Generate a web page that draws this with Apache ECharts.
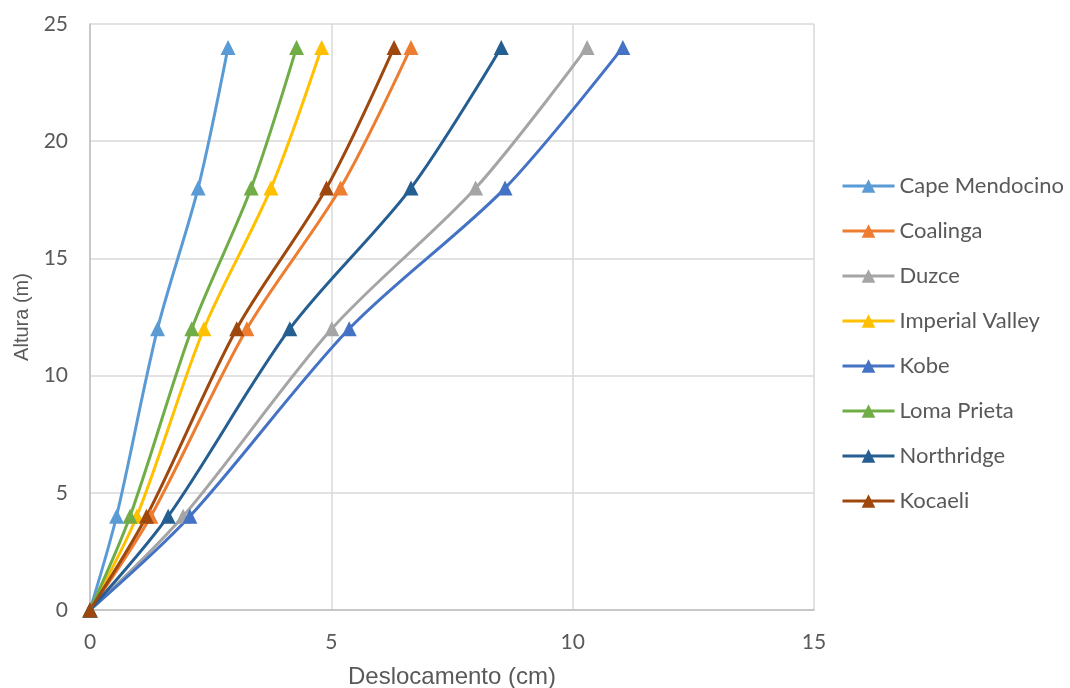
<!DOCTYPE html>
<html>
<head>
<meta charset="utf-8">
<script src="https://cdn.jsdelivr.net/npm/echarts@6/dist/echarts.min.js"></script>
<style>
html,body{margin:0;padding:0;background:#fff;}
#c{width:1070px;height:688px;}
</style>
</head>
<body>
<div id="c"></div>
<script>
const heights = [0, 4, 12, 18, 24];
const seriesNames = ['Cape Mendocino','Coalinga','Duzce','Imperial Valley','Kobe','Loma Prieta','Northridge','Kocaeli'];
const capeMendocino = [0, 0.55, 1.40, 2.24, 2.86];
const coalinga      = [0, 1.26, 3.25, 5.19, 6.65];
const duzce         = [0, 1.93, 5.01, 7.99, 10.30];
const imperialValley= [0, 0.97, 2.36, 3.75, 4.80];
const kobe          = [0, 2.07, 5.37, 8.60, 11.04];
const lomaPrieta    = [0, 0.83, 2.11, 3.34, 4.28];
const northridge    = [0, 1.62, 4.14, 6.65, 8.52];
const kocaeli       = [0, 1.17, 3.04, 4.90, 6.30];
const seriesValues = [capeMendocino, coalinga, duzce, imperialValley, kobe, lomaPrieta, northridge, kocaeli];
const colors = ['#5B9BD5','#ED7D31','#A5A5A5','#FFC000','#4472C4','#70AD47','#255E91','#9E480E'];
const xTicks = [0, 5, 10, 15];
const yTicks = [0, 5, 10, 15, 20, 25];

const chart = echarts.init(document.getElementById('c'));
const tickFont = 'Lato, "Noto Sans", sans-serif';
chart.setOption({
  animation: false,
  color: colors,
  grid: {left: 90, right: 256, top: 24, bottom: 78, containLabel: false, outerBoundsMode: 'none'},
  legend: {
    orient: 'vertical',
    left: 836, top: 170,
    itemWidth: 52, itemHeight: 17, itemGap: 23,
    lineStyle: {width: 3},
    textStyle: {fontFamily: tickFont, fontSize: 22, lineHeight: 22, color: '#595959'},
    data: seriesNames.map(n => ({name: n}))
  },
  xAxis: {
    type: 'value', min: xTicks[0], max: xTicks[xTicks.length-1], interval: 5,
    name: 'Deslocamento (cm)', nameLocation: 'middle', nameGap: 55,
    nameTextStyle: {fontFamily: '"Liberation Sans", Arial, sans-serif', fontSize: 24, color: '#595959'},
    axisLine: {show: true, lineStyle: {color: '#BFBFBF', width: 1.5}},
    axisTick: {show: false},
    axisLabel: {fontFamily: tickFont, fontSize: 21, color: '#595959', margin: 22},
    splitLine: {show: true, lineStyle: {color: '#D9D9D9', width: 1.5}}
  },
  yAxis: {
    type: 'value', min: yTicks[0], max: yTicks[yTicks.length-1], interval: 5,
    name: 'Altura (m)', nameLocation: 'middle', nameGap: 56,
    nameTextStyle: {fontFamily: '"Liberation Sans", Arial, sans-serif', fontSize: 20, color: '#595959'},
    axisLine: {show: true, lineStyle: {color: '#BFBFBF', width: 1.5}},
    axisTick: {show: false},
    axisLabel: {fontFamily: tickFont, fontSize: 21, color: '#595959', margin: 22},
    splitLine: {show: true, lineStyle: {color: '#D9D9D9', width: 1.5}}
  },
  series: seriesNames.map((name, i) => ({
    name: name,
    type: 'line',
    smooth: 0.3,
    symbol: 'triangle',
    symbolSize: 15,
    lineStyle: {width: 3, color: colors[i]},
    itemStyle: {color: colors[i]},
    data: seriesValues[i].map((v, j) => [v, heights[j]])
  }))
});
</script>
</body>
</html>
